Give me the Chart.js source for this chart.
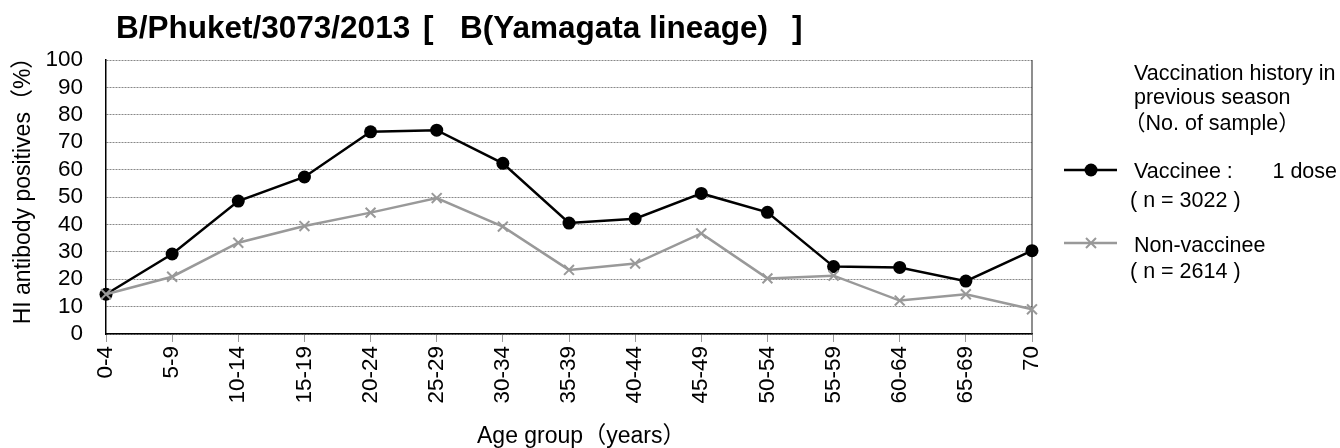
<!DOCTYPE html>
<html>
<head>
<meta charset="utf-8">
<script src="https://cdn.jsdelivr.net/npm/chart.js@4/dist/chart.umd.min.js"></script>
<style>
  html, body { margin: 0; padding: 0; background: #fff; }
  #wrap { position: relative; width: 1340px; height: 448px; }
</style>
</head>
<body>
<div id="wrap"><canvas id="c" width="1340" height="448"></canvas></div>
<script>
const categories = ['0-4','5-9','10-14','15-19','20-24','25-29','30-34','35-39','40-44','45-49','50-54','55-59','60-64','65-69','70'];
const vaccinee = [14.5, 29.2, 48.5, 57.3, 73.8, 74.4, 62.3, 40.5, 42.1, 51.3, 44.4, 24.6, 24.3, 19.3, 30.4];
const nonVaccinee = [14.5, 20.9, 33.3, 39.4, 44.3, 49.6, 39.2, 23.4, 25.7, 36.7, 20.3, 21.3, 12.2, 14.5, 9.0];
const yMin = 0, yMax = 100, yStep = 10;
const xTitle = 'Age group（years）';
const yTitle = 'HI antibody positives（%）';

const FONT = "'Liberation Sans', Arial, 'Noto Sans CJK JP', sans-serif";

const decor = {
  id: 'decor',
  beforeDatasetsDraw(chart) {
    const {ctx, chartArea: a} = chart;
    ctx.save();
    ctx.strokeStyle = '#444';
    ctx.lineWidth = 1.2;
    ctx.beginPath();
    ctx.moveTo(a.right, a.top);
    ctx.lineTo(a.right, a.bottom);
    ctx.stroke();
    ctx.restore();
  },
  afterDraw(chart) {
    const {ctx} = chart;
    ctx.save();
    ctx.fillStyle = '#000';
    ctx.textBaseline = 'alphabetic';
    ctx.textAlign = 'left';
    // Title
    ctx.font = "bold 31.5px " + FONT;
    ctx.fillText('B/Phuket/3073/2013', 116, 38);
    ctx.fillText('[', 423, 38);
    ctx.fillText('B(Yamagata lineage)', 460, 38);
    ctx.fillText(']', 792, 38);

    // Axis titles
    ctx.font = "23px " + FONT;
    ctx.fillText(xTitle, 477, 443);
    ctx.save();
    ctx.translate(24, 185);
    ctx.rotate(-Math.PI / 2);
    ctx.textAlign = 'center';
    ctx.textBaseline = 'middle';
    ctx.fillText(yTitle, 0, 0);
    ctx.restore();

    // Legend
    ctx.font = "21.5px " + FONT;
    ctx.fillText('Vaccination history in', 1134, 80);
    ctx.fillText('previous season', 1134, 104);
    ctx.fillText('（No. of sample）', 1124, 130);
    ctx.fillText('Vaccinee :', 1134, 178);
    ctx.textAlign = 'right';
    ctx.fillText('1 dose', 1337, 178);
    ctx.textAlign = 'left';
    ctx.fillText('( n = 3022 )', 1130, 207);
    ctx.fillText('Non-vaccinee', 1134, 252);
    ctx.fillText('( n = 2614 )', 1130, 278);

    // legend markers
    ctx.lineWidth = 2.5;
    ctx.strokeStyle = '#000';
    ctx.beginPath(); ctx.moveTo(1064, 170); ctx.lineTo(1117, 170); ctx.stroke();
    ctx.beginPath(); ctx.arc(1091, 170, 6.5, 0, Math.PI * 2); ctx.fill();
    ctx.strokeStyle = '#999';
    ctx.beginPath(); ctx.moveTo(1064, 243); ctx.lineTo(1117, 243); ctx.stroke();
    ctx.lineWidth = 2;
    const r = 5;
    ctx.beginPath();
    ctx.moveTo(1091 - r, 243 - r); ctx.lineTo(1091 + r, 243 + r);
    ctx.moveTo(1091 - r, 243 + r); ctx.lineTo(1091 + r, 243 - r);
    ctx.stroke();
    ctx.restore();
  }
};

new Chart(document.getElementById('c'), {
  type: 'line',
  data: {
    labels: categories,
    datasets: [
      {
        label: 'Vaccinee',
        data: vaccinee,
        borderColor: '#000',
        backgroundColor: '#000',
        borderWidth: 2.5,
        pointStyle: 'circle',
        pointRadius: 6.5,
        pointBackgroundColor: '#000',
        pointBorderColor: '#000',
        pointBorderWidth: 0,
        tension: 0,
        clip: false,
        order: 1
      },
      {
        label: 'Non-vaccinee',
        data: nonVaccinee,
        borderColor: '#999',
        backgroundColor: '#999',
        borderWidth: 2.5,
        pointStyle: 'crossRot',
        pointRadius: 7,
        pointBorderColor: '#999',
        pointBorderWidth: 2,
        tension: 0,
        clip: false,
        order: 0
      }
    ]
  },
  options: {
    responsive: false,
    devicePixelRatio: 1,
    animation: false,
    layout: { padding: { top: 60, right: 308, left: 0, bottom: 0 } },
    plugins: { legend: { display: false }, tooltip: { enabled: false }, title: { display: false } },
    scales: {
      x: {
        type: 'category',
        offset: false,
        afterFit(s) { s.height = 114; },
        grid: { display: true, drawOnChartArea: false, drawTicks: true, tickLength: 8, tickColor: '#999', color: '#999', lineWidth: 1 },
        border: { display: true, color: '#000', width: 1.5 },
        ticks: { autoSkip: false, minRotation: 90, maxRotation: 90, padding: 4, color: '#000', font: { family: FONT, size: 22.5 } },
        title: { display: false }
      },
      y: {
        min: yMin, max: yMax,
        afterFit(s) { s.width = 106; },
        grid: { color: '#888', lineWidth: 1, drawTicks: false },
        border: { display: true, color: '#000', width: 1.5, dash: [2, 1] },
        ticks: { stepSize: yStep, autoSkip: false, padding: 23, color: '#000', font: { family: FONT, size: 22.5 } },
        title: { display: false }
      }
    }
  },
  plugins: [decor]
});
</script>
</body>
</html>
